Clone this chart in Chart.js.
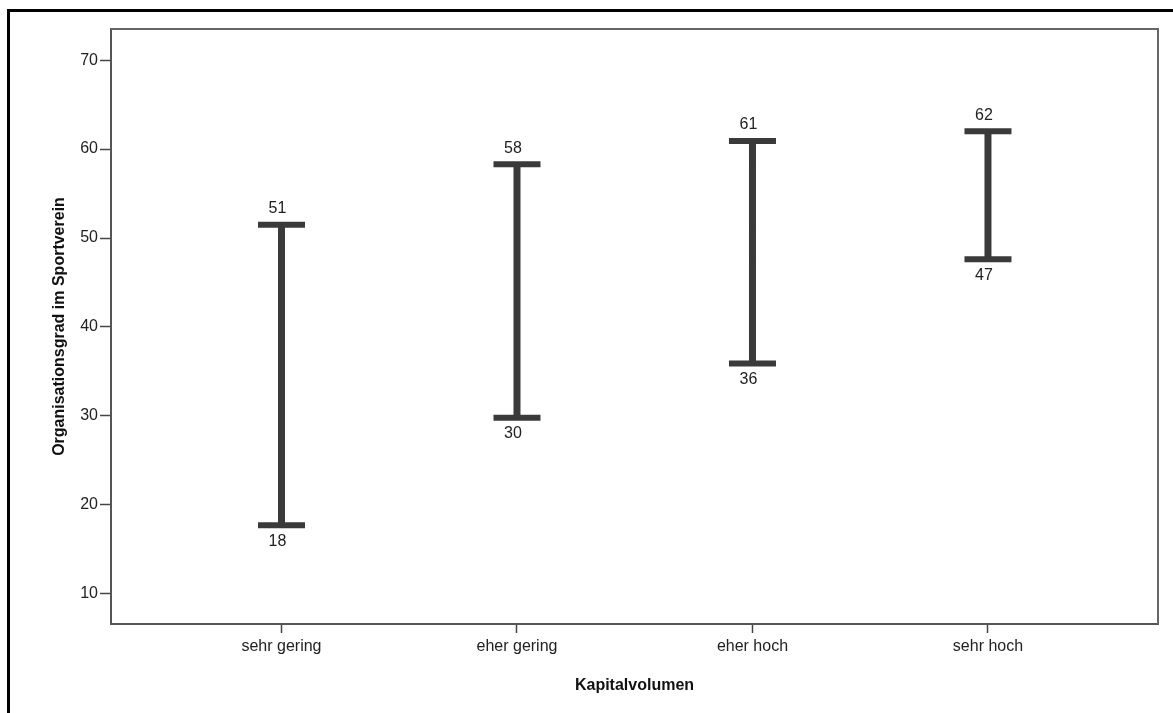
<!DOCTYPE html>
<html>
<head>
<meta charset="utf-8">
<script src="https://cdn.jsdelivr.net/npm/chart.js@4.4.1/dist/chart.umd.min.js"></script>
<style>
  html, body { margin: 0; padding: 0; background: #ffffff; overflow: hidden; }
  #wrap { position: relative; width: 1173px; height: 713px; }
  canvas { display: block; }
</style>
</head>
<body>
<div id="wrap"><canvas id="c" width="1173" height="713"></canvas></div>
<script>
// ---- data ----
const categories = ['sehr gering', 'eher gering', 'eher hoch', 'sehr hoch'];
const lowValues  = [17.7, 29.8, 35.9, 47.6];
const highValues = [51.5, 58.3, 60.9, 62.0];
const lowLabels  = ['18', '30', '36', '47'];
const highLabels = ['51', '58', '61', '62'];
const yTicks = [10, 20, 30, 40, 50, 60, 70];
const xTitle = 'Kapitalvolumen';
const yTitle = 'Organisationsgrad im Sportverein';

const barColor = '#3a3a3a';
const FONT = '"Liberation Sans", Arial, sans-serif';

// stems: pairs of points separated by gaps
const stemData = [];
categories.forEach((c, i) => {
  stemData.push({ x: i, y: lowValues[i] });
  stemData.push({ x: i, y: highValues[i] });
  stemData.push({ x: i, y: null });
});
const capData = [];
categories.forEach((c, i) => {
  capData.push({ x: i, y: lowValues[i] });
  capData.push({ x: i, y: highValues[i] });
});

const decorPlugin = {
  id: 'decor',
  beforeDraw(chart) {
    const ctx = chart.ctx;
    ctx.save();
    ctx.fillStyle = '#ffffff';
    ctx.fillRect(0, 0, chart.width, chart.height);
    // outer frame (left + top)
    ctx.fillStyle = '#000000';
    ctx.fillRect(7, 9, 3, chart.height - 9);
    ctx.fillRect(7, 9, chart.width - 7, 3);
    ctx.restore();
  },
  afterDraw(chart) {
    const ctx = chart.ctx;
    const a = chart.chartArea;
    const xs = chart.scales.x, ys = chart.scales.y;
    ctx.save();
    // plot frame top/right
    ctx.strokeStyle = '#666666';
    ctx.lineWidth = 2;
    ctx.beginPath();
    ctx.moveTo(a.left, a.top);
    ctx.lineTo(a.right, a.top);
    ctx.lineTo(a.right, a.bottom);
    ctx.stroke();
    // value labels
    ctx.fillStyle = '#222222';
    ctx.font = '16px ' + FONT;
    ctx.textAlign = 'center';
    ctx.textBaseline = 'middle';
    categories.forEach((c, i) => {
      const px = xs.getPixelForValue(i) - 4;
      ctx.fillText(highLabels[i], px, ys.getPixelForValue(highValues[i]) - 16);
      ctx.fillText(lowLabels[i], px, ys.getPixelForValue(lowValues[i]) + 16);
    });
    // axis titles
    ctx.fillStyle = '#111111';
    ctx.font = 'bold 16px ' + FONT;
    ctx.fillText(xTitle, (a.left + a.right) / 2, 686);
    ctx.translate(60, (a.top + a.bottom) / 2);
    ctx.rotate(-Math.PI / 2);
    ctx.fillText(yTitle, 0, 0);
    ctx.restore();
  }
};

new Chart(document.getElementById('c'), {
  type: 'scatter',
  data: {
    datasets: [
      { type: 'line', data: stemData, borderColor: barColor, borderWidth: 7, pointRadius: 0, spanGaps: false, borderCapStyle: 'butt' },
      { type: 'scatter', data: capData, pointStyle: 'line', pointRadius: 23.5, pointHoverRadius: 23.5, borderColor: barColor, backgroundColor: barColor, pointBorderWidth: 6, borderWidth: 6 }
    ]
  },
  options: {
    responsive: false,
    animation: false,
    events: [],
    layout: { autoPadding: false, padding: { left: 0, top: 29, right: 15, bottom: 0 } },
    plugins: { legend: { display: false }, tooltip: { enabled: false } },
    scales: {
      x: {
        type: 'linear', min: -0.724, max: 3.722,
        afterBuildTicks(scale) { scale.ticks = categories.map((c, i) => ({ value: i })); },
        afterFit(scale) { scale.height = 713 - 624; scale.paddingLeft = 0; scale.paddingRight = 0; },
        ticks: { callback: (v) => categories[v], font: { family: FONT, size: 16 }, color: '#222222', padding: 4, maxRotation: 0, autoSkip: false },
        grid: { drawOnChartArea: false, drawTicks: true, tickLength: 9, color: '#444444', tickWidth: 1.5 },
        border: { display: true, color: '#555555', width: 2 }
      },
      y: {
        type: 'linear', min: 6.6, max: 73.5,
        afterBuildTicks(scale) { scale.ticks = yTicks.map(v => ({ value: v })); },
        afterFit(scale) { scale.width = 111; scale.paddingTop = 0; scale.paddingBottom = 0; },
        ticks: { font: { family: FONT, size: 16 }, color: '#222222', padding: 2 },
        grid: { drawOnChartArea: false, drawTicks: true, tickLength: 11, color: '#444444', tickWidth: 1.5 },
        border: { display: true, color: '#555555', width: 2 }
      }
    }
  },
  plugins: [decorPlugin]
});
</script>
</body>
</html>
